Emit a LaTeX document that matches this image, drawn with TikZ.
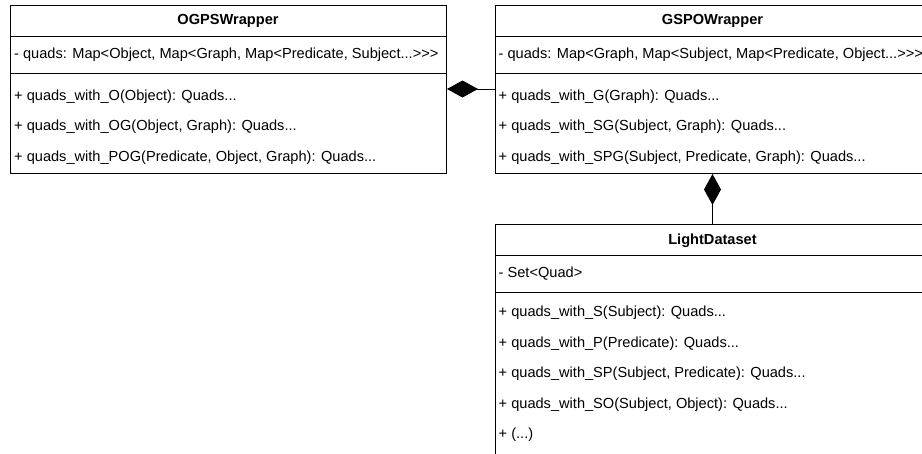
\documentclass[tikz,border=0pt]{standalone}
\usepackage{fontspec}
\setmainfont[Ligatures=NoCommon]{Liberation Sans}
\usetikzlibrary{arrows.meta}

\begin{document}
\begin{tikzpicture}[x=1pt,y=-1pt,
  classbox/.style={draw=black, line width=1pt, fill=white, rectangle, anchor=north west, inner sep=0pt},
  title/.style={font=\fontsize{14.6}{17}\selectfont\bfseries, anchor=center, inner sep=0pt},
  member/.style={font=\fontsize{14.6}{17}\selectfont, anchor=west, inner sep=0pt},
  sep/.style={draw=black, line width=1pt},
  compose/.style={draw=black, line width=1pt, {Diamond[length=31pt,width=17pt,fill=black]}-}
]
\useasboundingbox (0,0) rectangle (922,453);
\clip (0,0) rectangle (922,453);

% --- OGPSWrapper ---
\node[classbox, minimum width=436pt, minimum height=168pt] (ogps) at (10,5) {};
\draw[sep] (10,36) -- (446,36);
\draw[sep] (10,73) -- (446,73);
\node[title] (ogpsT) at (228,21) {OGPSWrapper};
\node[member] (ogpsA) at (14,55) {- quads: Map<Object, Map<Graph, Map<Predicate, Subject...>{}>{}>};
\node[member] (ogpsM1) at (14,96.5) {+ quads\_with\_O(Object): Quads...};
\node[member] (ogpsM2) at (14,127) {+ quads\_with\_OG(Object, Graph): Quads...};
\node[member] (ogpsM3) at (14,157.5) {+ quads\_with\_POG(Predicate, Object, Graph): Quads...};

% --- GSPOWrapper ---
\node[classbox, minimum width=436pt, minimum height=168pt] (gspo) at (494.5,5) {};
\draw[sep] (494.5,36) -- (930.5,36);
\draw[sep] (494.5,73) -- (930.5,73);
\node[title] (gspoT) at (712.5,21) {GSPOWrapper};
\node[member] (gspoA) at (498.5,55) {- quads: Map<Graph, Map<Subject, Map<Predicate, Object...>{}>{}>};
\node[member] (gspoM1) at (498.5,96.5) {+ quads\_with\_G(Graph): Quads...};
\node[member] (gspoM2) at (498.5,127) {+ quads\_with\_SG(Subject, Graph): Quads...};
\node[member] (gspoM3) at (498.5,157.5) {+ quads\_with\_SPG(Subject, Predicate, Graph): Quads...};

% --- LightDataset ---
\node[classbox, minimum width=436pt, minimum height=250pt] (light) at (494.5,224) {};
\draw[sep] (494.5,255.5) -- (930.5,255.5);
\draw[sep] (494.5,292.5) -- (930.5,292.5);
\node[title] (lightT) at (712.5,240.5) {LightDataset};
\node[member] (lightA) at (498.5,274) {- Set<Quad>};
\node[member] (lightM1) at (498.5,313) {+ quads\_with\_S(Subject): Quads...};
\node[member] (lightM2) at (498.5,343.5) {+ quads\_with\_P(Predicate): Quads...};
\node[member] (lightM3) at (498.5,374) {+ quads\_with\_SP(Subject, Predicate): Quads...};
\node[member] (lightM4) at (498.5,404.5) {+ quads\_with\_SO(Subject, Object): Quads...};
\node[member] (lightM5) at (498.5,435) {+ (...)};

% --- composition links ---
\coordinate (ogpsPort) at (ogps.east |- 0,89);
\coordinate (gspoPort) at (gspo.west |- 0,89);
\draw[compose] (ogpsPort) -- (gspoPort);
\draw[compose] (gspo.south -| 712.5,0) -- (light.north -| 712.5,0);
\end{tikzpicture}
\end{document}
